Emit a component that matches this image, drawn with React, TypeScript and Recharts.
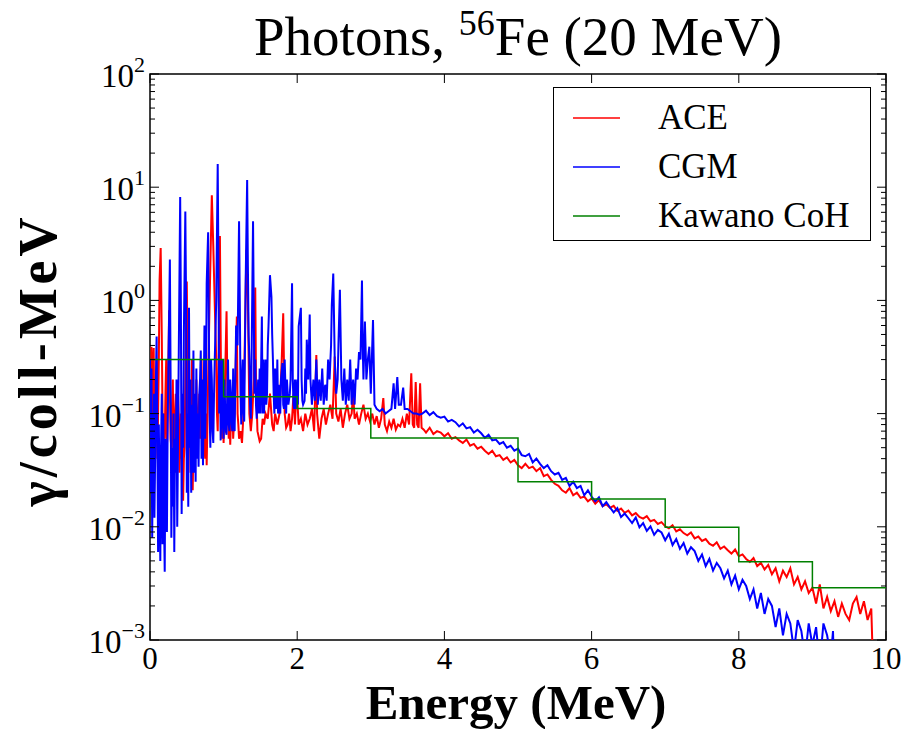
import { LineChart, Line, XAxis, YAxis, Legend, ReferenceArea } from "recharts"

// Kawano CoH group spectrum (step values, MeV bins)
const cohSteps: [number, number][] = [
  [0, 0.30], [1, 0.141], [2, 0.111], [3, 0.061], [4, 0.061], [5, 0.025],
  [6, 0.0176], [7, 0.0099], [8, 0.0049], [9, 0.0029], [10, 0.0029],
]

// CGM photon spectrum [energy MeV, gamma/coll-MeV]
const cgmSpectrum: [number, number][] = [
  [0.00, 0.30], [0.005, 0.05], [0.01, 0.02], [0.015, 0.2], [0.02, 0.25], [0.025, 0.03], [0.03, 0.008], [0.04, 0.1],
  [0.05, 0.05], [0.055, 0.15], [0.06, 0.012], [0.07, 0.04], [0.08, 0.2], [0.09, 0.48], [0.10, 0.05], [0.105, 0.02],
  [0.11, 0.006], [0.12, 0.08], [0.13, 0.02], [0.14, 0.005], [0.15, 0.05], [0.16, 0.15], [0.17, 0.007], [0.18, 0.1],
  [0.19, 0.012], [0.20, 0.004], [0.21, 0.06], [0.22, 0.03], [0.23, 0.009], [0.24, 0.08], [0.25, 0.25], [0.27, 2.3],
  [0.28, 0.2], [0.29, 0.008], [0.30, 0.05], [0.31, 0.015], [0.32, 0.1], [0.33, 0.006], [0.34, 0.06], [0.35, 0.03],
  [0.36, 0.2], [0.37, 0.01], [0.38, 0.05], [0.39, 0.3], [0.41, 8.2], [0.42, 0.8], [0.43, 0.013], [0.44, 0.15],
  [0.45, 0.05], [0.46, 0.5], [0.48, 6.1], [0.49, 1.0], [0.50, 0.02], [0.51, 0.1], [0.52, 0.015], [0.53, 0.86],
  [0.54, 0.05], [0.55, 0.2], [0.56, 0.02], [0.57, 0.12], [0.58, 0.03], [0.59, 0.36], [0.60, 0.03], [0.61, 0.15],
  [0.62, 0.025], [0.63, 0.25], [0.64, 0.04], [0.65, 0.1], [0.66, 0.034], [0.67, 0.15], [0.68, 0.2], [0.69, 0.36],
  [0.70, 0.04], [0.71, 0.2], [0.72, 0.035], [0.73, 0.15], [0.74, 0.6], [0.75, 0.06], [0.76, 0.15], [0.77, 1.4],
  [0.79, 4.0], [0.80, 0.5], [0.81, 0.1], [0.82, 0.05], [0.83, 0.3], [0.84, 0.2], [0.85, 0.07], [0.86, 0.055],
  [0.87, 0.15], [0.88, 0.3], [0.90, 1.0], [0.92, 16], [0.93, 2.0], [0.94, 0.1], [0.95, 0.3], [0.96, 0.058],
  [0.97, 0.1], [0.98, 0.3], [0.99, 0.08], [1.00, 0.06], [1.01, 0.2], [1.02, 0.12], [1.03, 0.07], [1.04, 0.065],
  [1.05, 0.15], [1.06, 0.3], [1.07, 0.08], [1.08, 0.07], [1.09, 0.2], [1.10, 0.15], [1.11, 0.08], [1.12, 0.07],
  [1.13, 0.25], [1.14, 0.09], [1.15, 0.07], [1.17, 0.6], [1.19, 0.4], [1.21, 5.0], [1.22, 1.0], [1.23, 0.15],
  [1.24, 0.08], [1.25, 0.2], [1.26, 0.3], [1.27, 0.1], [1.28, 0.085], [1.30, 1.5], [1.32, 11.6], [1.33, 2.0],
  [1.34, 0.5], [1.35, 0.3], [1.36, 0.12], [1.37, 0.09], [1.38, 0.3], [1.39, 1.2], [1.40, 5.0], [1.41, 0.8],
  [1.42, 0.15], [1.43, 0.3], [1.44, 0.12], [1.45, 0.09], [1.46, 0.15], [1.47, 0.2], [1.48, 0.1], [1.49, 0.25],
  [1.50, 0.1], [1.52, 0.72], [1.53, 0.1], [1.54, 0.3], [1.55, 0.1], [1.56, 0.2], [1.57, 0.3], [1.58, 0.12],
  [1.59, 0.15], [1.60, 0.4], [1.61, 0.59], [1.63, 1.67], [1.65, 1.07], [1.66, 0.5], [1.67, 0.3], [1.68, 0.15],
  [1.69, 0.1], [1.70, 0.25], [1.71, 0.11], [1.72, 0.12], [1.73, 0.3], [1.74, 0.1], [1.75, 0.18], [1.77, 0.1],
  [1.78, 0.2], [1.80, 0.28], [1.81, 0.12], [1.82, 0.11], [1.83, 0.3], [1.85, 0.1], [1.86, 0.2], [1.88, 0.12],
  [1.90, 0.15], [1.91, 0.2], [1.93, 1.42], [1.94, 0.2], [1.95, 0.12], [1.96, 0.11], [1.97, 0.2], [1.98, 0.11],
  [2.00, 0.2], [2.01, 0.12], [2.02, 0.59], [2.05, 0.86], [2.06, 0.2], [2.07, 0.13], [2.08, 0.12], [2.10, 0.13],
  [2.11, 0.25], [2.12, 0.15], [2.13, 0.45], [2.15, 0.2], [2.17, 0.75], [2.18, 0.2], [2.20, 0.12], [2.22, 0.2],
  [2.24, 0.13], [2.26, 0.3], [2.28, 0.12], [2.30, 0.2], [2.32, 0.13], [2.34, 0.25], [2.36, 0.12], [2.38, 0.18],
  [2.40, 0.13], [2.42, 0.3], [2.44, 0.2], [2.46, 0.4], [2.47, 0.9], [2.49, 1.73], [2.51, 0.3], [2.53, 0.15],
  [2.55, 0.2], [2.56, 0.4], [2.58, 1.24], [2.60, 0.2], [2.62, 0.13], [2.64, 0.25], [2.66, 0.12], [2.68, 0.2],
  [2.70, 0.13], [2.72, 0.3], [2.74, 0.12], [2.76, 0.2], [2.78, 0.12], [2.80, 0.25], [2.82, 0.2], [2.84, 0.35],
  [2.86, 0.3], [2.88, 1.5], [2.89, 0.4], [2.90, 0.2], [2.92, 0.65], [2.94, 0.2], [2.96, 0.3], [2.98, 0.39],
  [3.00, 0.15], [3.03, 0.67], [3.05, 0.12], [3.08, 0.11], [3.12, 0.105], [3.16, 0.11], [3.20, 0.1], [3.24, 0.105],
  [3.28, 0.11], [3.31, 0.185], [3.33, 0.11], [3.36, 0.21], [3.38, 0.12], [3.41, 0.12], [3.44, 0.17], [3.46, 0.11],
  [3.50, 0.11], [3.54, 0.105], [3.58, 0.1], [3.62, 0.1], [3.66, 0.098], [3.70, 0.1], [3.75, 0.106], [3.80, 0.097],
  [3.85, 0.103], [3.90, 0.095], [3.95, 0.092], [4.00, 0.094], [4.05, 0.085], [4.10, 0.088], [4.15, 0.084], [4.20, 0.077],
  [4.25, 0.082], [4.30, 0.074], [4.35, 0.076], [4.40, 0.068], [4.45, 0.072], [4.50, 0.067], [4.55, 0.061], [4.60, 0.065],
  [4.65, 0.058], [4.70, 0.059], [4.75, 0.054], [4.80, 0.056], [4.85, 0.05], [4.90, 0.052], [4.95, 0.047], [5.00, 0.049],
  [5.05, 0.043], [5.10, 0.042], [5.15, 0.044], [5.20, 0.037], [5.25, 0.04], [5.30, 0.036], [5.35, 0.033], [5.40, 0.035],
  [5.45, 0.031], [5.50, 0.029], [5.55, 0.03], [5.60, 0.026], [5.65, 0.027], [5.70, 0.023], [5.75, 0.025], [5.80, 0.022],
  [5.85, 0.023], [5.90, 0.019], [5.95, 0.021], [6.00, 0.0185], [6.05, 0.0168], [6.10, 0.0182], [6.15, 0.0152], [6.20, 0.0165],
  [6.25, 0.0148], [6.30, 0.0134], [6.35, 0.0146], [6.40, 0.0122], [6.45, 0.0131], [6.50, 0.0119], [6.55, 0.0108], [6.60, 0.0121],
  [6.65, 0.0099], [6.70, 0.0108], [6.75, 0.0092], [6.80, 0.0101], [6.85, 0.0085], [6.90, 0.0094], [6.95, 0.0089], [7.00, 0.0076],
  [7.05, 0.0087], [7.10, 0.0069], [7.15, 0.0078], [7.20, 0.0064], [7.25, 0.0072], [7.30, 0.0058], [7.35, 0.0066], [7.40, 0.0061],
  [7.45, 0.005], [7.50, 0.0057], [7.55, 0.0045], [7.60, 0.0052], [7.65, 0.0041], [7.70, 0.0048], [7.75, 0.0043], [7.80, 0.0035],
  [7.85, 0.0041], [7.90, 0.0031], [7.95, 0.0037], [8.00, 0.0028], [8.05, 0.0034], [8.10, 0.003], [8.15, 0.0023], [8.20, 0.0028],
  [8.25, 0.0019], [8.30, 0.0026], [8.35, 0.0017], [8.40, 0.0023], [8.45, 0.002], [8.50, 0.0013], [8.55, 0.0019], [8.60, 0.0011],
  [8.65, 0.0017], [8.70, 0.0014], [8.75, 0.0008], [8.80, 0.0015], [8.85, 0.0012], [8.90, 0.0007], [8.95, 0.0014], [9.00, 0.0009],
  [9.05, 0.0013], [9.10, 0.0006], [9.15, 0.0014], [9.20, 0.0011], [9.25, 0.0007], [9.28, 0.0012], [9.30, 0.0004],
]

// ACE photon spectrum [energy MeV, gamma/coll-MeV]
const aceSpectrum: [number, number][] = [
  [0.00, 0.05], [0.005, 0.2], [0.01, 0.3], [0.015, 0.1], [0.02, 0.39], [0.03, 0.05], [0.04, 0.25], [0.05, 0.38],
  [0.06, 0.06], [0.07, 0.2], [0.08, 0.1], [0.09, 0.3], [0.10, 0.04], [0.11, 0.1], [0.12, 0.3], [0.13, 1.5],
  [0.145, 2.9], [0.16, 0.5], [0.17, 0.1], [0.18, 0.029], [0.19, 0.1], [0.20, 0.06], [0.21, 0.15], [0.22, 0.3],
  [0.23, 0.05], [0.24, 0.1], [0.25, 0.3], [0.26, 0.82], [0.27, 0.15], [0.28, 0.06], [0.29, 0.05], [0.30, 0.12],
  [0.31, 0.2], [0.32, 0.05], [0.33, 0.05], [0.34, 0.1], [0.35, 0.15], [0.36, 0.04], [0.37, 0.06], [0.38, 0.15],
  [0.39, 0.1], [0.40, 0.03], [0.41, 0.05], [0.42, 0.1], [0.43, 0.04], [0.44, 0.08], [0.45, 0.017], [0.46, 0.04],
  [0.47, 0.05], [0.48, 0.2], [0.49, 0.6], [0.50, 1.47], [0.51, 0.3], [0.52, 0.08], [0.53, 0.05], [0.54, 0.1],
  [0.55, 0.03], [0.56, 0.06], [0.57, 0.3], [0.58, 0.021], [0.59, 0.05], [0.60, 0.04], [0.61, 0.1], [0.62, 0.06],
  [0.63, 0.2], [0.64, 0.07], [0.65, 0.056], [0.66, 0.1], [0.67, 0.15], [0.68, 0.06], [0.69, 0.07], [0.70, 0.3],
  [0.71, 0.05], [0.72, 0.08], [0.73, 0.1], [0.74, 0.05], [0.75, 0.04], [0.76, 0.1], [0.77, 0.035], [0.78, 0.08],
  [0.79, 0.2], [0.81, 1.0], [0.84, 8.5], [0.86, 3.0], [0.88, 0.91], [0.90, 0.3], [0.91, 0.1], [0.92, 0.07],
  [0.93, 0.2], [0.95, 3.7], [0.96, 0.5], [0.97, 0.1], [0.98, 0.06], [0.99, 0.1], [1.00, 0.055], [1.01, 0.1],
  [1.02, 0.2], [1.04, 0.8], [1.05, 0.2], [1.06, 0.09], [1.07, 0.06], [1.08, 0.1], [1.09, 0.053], [1.10, 0.09],
  [1.11, 0.07], [1.12, 0.12], [1.13, 0.06], [1.14, 0.08], [1.15, 0.1], [1.16, 0.2], [1.18, 0.72], [1.19, 0.1],
  [1.20, 0.08], [1.21, 0.06], [1.23, 0.07], [1.25, 0.055], [1.27, 0.1], [1.29, 0.5], [1.31, 2.8], [1.33, 1.0],
  [1.35, 0.1], [1.37, 0.07], [1.39, 0.1], [1.41, 0.2], [1.43, 1.3], [1.44, 0.2], [1.46, 0.07], [1.49, 0.057],
  [1.51, 0.06], [1.53, 0.09], [1.55, 0.08], [1.57, 0.1], [1.60, 0.09], [1.63, 0.15], [1.66, 0.08], [1.68, 0.07],
  [1.70, 0.1], [1.73, 0.08], [1.76, 0.1], [1.79, 0.3], [1.81, 0.77], [1.83, 0.1], [1.85, 0.075], [1.87, 0.08],
  [1.89, 0.1], [1.91, 0.07], [1.93, 0.09], [1.95, 0.15], [1.97, 0.08], [1.99, 0.18], [2.02, 0.08], [2.05, 0.09],
  [2.08, 0.07], [2.11, 0.1], [2.14, 0.08], [2.17, 0.09], [2.20, 0.11], [2.23, 0.07], [2.26, 0.33], [2.27, 0.1],
  [2.30, 0.06], [2.33, 0.09], [2.36, 0.11], [2.39, 0.08], [2.42, 0.1], [2.45, 0.12], [2.48, 0.09], [2.51, 0.32],
  [2.53, 0.1], [2.56, 0.085], [2.59, 0.11], [2.62, 0.075], [2.65, 0.1], [2.68, 0.12], [2.71, 0.09], [2.74, 0.1],
  [2.76, 0.15], [2.78, 0.09], [2.81, 0.1], [2.84, 0.08], [2.87, 0.1], [2.90, 0.12], [2.93, 0.09], [2.96, 0.1],
  [2.99, 0.085], [3.02, 0.1], [3.05, 0.08], [3.08, 0.095], [3.11, 0.075], [3.14, 0.09], [3.17, 0.137], [3.19, 0.08],
  [3.22, 0.07], [3.25, 0.085], [3.28, 0.075], [3.31, 0.09], [3.34, 0.072], [3.37, 0.08], [3.40, 0.077], [3.43, 0.09],
  [3.46, 0.075], [3.49, 0.1], [3.52, 0.08], [3.55, 0.227], [3.57, 0.08], [3.59, 0.075], [3.61, 0.19], [3.63, 0.08],
  [3.65, 0.075], [3.67, 0.185], [3.69, 0.075], [3.72, 0.072], [3.75, 0.068], [3.80, 0.075], [3.85, 0.066], [3.90, 0.07],
  [3.95, 0.068], [4.00, 0.063], [4.05, 0.067], [4.10, 0.06], [4.15, 0.062], [4.20, 0.058], [4.25, 0.055], [4.30, 0.059],
  [4.35, 0.052], [4.40, 0.054], [4.45, 0.049], [4.50, 0.051], [4.55, 0.047], [4.60, 0.044], [4.65, 0.047], [4.70, 0.042],
  [4.75, 0.043], [4.80, 0.039], [4.85, 0.041], [4.90, 0.037], [4.95, 0.039], [5.00, 0.035], [5.05, 0.033], [5.10, 0.036],
  [5.15, 0.033], [5.20, 0.034], [5.25, 0.031], [5.30, 0.033], [5.35, 0.028], [5.40, 0.029], [5.45, 0.026], [5.50, 0.024],
  [5.55, 0.023], [5.60, 0.021], [5.65, 0.02], [5.70, 0.022], [5.75, 0.019], [5.80, 0.02], [5.85, 0.018], [5.90, 0.0185],
  [5.95, 0.0168], [6.00, 0.0178], [6.05, 0.016], [6.10, 0.0172], [6.15, 0.0152], [6.20, 0.0158], [6.25, 0.0147], [6.30, 0.0153],
  [6.35, 0.0138], [6.40, 0.0145], [6.45, 0.0133], [6.50, 0.0139], [6.55, 0.0126], [6.60, 0.0132], [6.65, 0.0122], [6.70, 0.0118],
  [6.75, 0.0124], [6.80, 0.0112], [6.85, 0.0115], [6.90, 0.0106], [6.95, 0.011], [7.00, 0.0101], [7.05, 0.0097], [7.10, 0.0103],
  [7.15, 0.0091], [7.20, 0.0095], [7.25, 0.0088], [7.30, 0.0084], [7.35, 0.0089], [7.40, 0.0079], [7.45, 0.0082], [7.50, 0.0075],
  [7.55, 0.0078], [7.60, 0.0071], [7.65, 0.0068], [7.70, 0.0073], [7.75, 0.0064], [7.80, 0.0067], [7.85, 0.0062], [7.90, 0.0058],
  [7.95, 0.0063], [8.00, 0.0055], [8.05, 0.0057], [8.10, 0.0052], [8.15, 0.0049], [8.20, 0.0053], [8.25, 0.0045], [8.30, 0.0048],
  [8.35, 0.0042], [8.40, 0.0046], [8.45, 0.0038], [8.50, 0.0043], [8.55, 0.0033], [8.60, 0.0041], [8.65, 0.0036], [8.70, 0.0043],
  [8.75, 0.0031], [8.80, 0.0036], [8.85, 0.0028], [8.90, 0.0033], [8.95, 0.0026], [9.00, 0.0029], [9.05, 0.0021], [9.10, 0.0031],
  [9.15, 0.0019], [9.20, 0.0024], [9.25, 0.0018], [9.30, 0.0022], [9.35, 0.0016], [9.40, 0.0021], [9.45, 0.0017], [9.50, 0.0015],
  [9.55, 0.0021], [9.60, 0.0024], [9.65, 0.0017], [9.70, 0.0022], [9.75, 0.0015], [9.80, 0.0019], [9.82, 0.0007],
]

const xTicks = [0, 2, 4, 6, 8, 10]
const yDecades = [-3, -2, -1, 0, 1]

// all log ticks: 1..9 x 10^k plus the top decade
const yTicks: number[] = []
yDecades.forEach((d) => {
  for (let m = 1; m <= 9; m++) yTicks.push(Number((m * Math.pow(10, d)).toPrecision(3)))
})
yTicks.push(100)

const toRows = (pts: [number, number][]) => pts.map(([e, v]) => ({ e, v }))
const aceData = toRows(aceSpectrum)
const cgmData = toRows(cgmSpectrum)
const cohData = toRows(cohSteps)

const PLOT = { left: 150, right: 886, top: 74, bottom: 640 }
const FONT = "'Liberation Serif', 'Times New Roman', serif"

function LeftTick(props: any) {
  const { y, payload } = props
  const v = payload.value
  const exp = Math.round(Math.log10(v))
  const major = Math.abs(v - Math.pow(10, exp)) < 1e-9
  const len = major ? 9 : 5
  const sup = exp < 0 ? `\u2212${-exp}` : `${exp}`
  return (
    <g>
      <line x1={PLOT.left} x2={PLOT.left + len} y1={y} y2={y} stroke="#000" strokeWidth={1} />
      <line x1={PLOT.right} x2={PLOT.right - len} y1={y} y2={y} stroke="#000" strokeWidth={1} />
      {major && (
        <text x={PLOT.left - 5} y={y + 13} textAnchor="end" fontFamily={FONT} fontSize={33} fill="#000">
          10<tspan dy={-15} fontSize={22}>{sup}</tspan>
        </text>
      )}
    </g>
  )
}

function BottomTick(props: any) {
  const { x, payload } = props
  return (
    <g>
      <line x1={x} x2={x} y1={PLOT.bottom} y2={PLOT.bottom - 9} stroke="#000" strokeWidth={1} />
      <line x1={x} x2={x} y1={PLOT.top} y2={PLOT.top + 9} stroke="#000" strokeWidth={1} />
      <text x={x} y={PLOT.bottom + 29} textAnchor="middle" fontFamily={FONT} fontSize={31} fill="#000">
        {payload.value}
      </text>
    </g>
  )
}

function LegendBox({ payload }: any) {
  return (
    <div
      style={{
        width: 318,
        height: 154,
        boxSizing: "border-box",
        border: "1.5px solid #000",
        background: "#fff",
        paddingTop: 5,
      }}
    >
      {(payload || []).map((entry: any) => (
        <div key={entry.value} style={{ display: "flex", alignItems: "center", height: 49 }}>
          <svg width={104} height={10} style={{ flex: "none" }}>
            <line x1={19} x2={66} y1={5} y2={5} stroke={entry.color} strokeWidth={1.5} />
          </svg>
          <span style={{ fontFamily: FONT, fontSize: 35, color: "#000", lineHeight: "49px" }}>{entry.value}</span>
        </div>
      ))}
    </div>
  )
}

export default function App() {
  return (
    <div style={{ position: "absolute", left: 0, top: 0, width: 906, height: 729, background: "#fff" }}>
      <LineChart width={906} height={729} margin={{ top: 74, right: 20, bottom: 0, left: 0 }}>
        <XAxis
          dataKey="e"
          type="number"
          domain={[0, 10]}
          ticks={xTicks}
          interval={0}
          height={89}
          axisLine={false}
          tickLine={false}
          tick={<BottomTick />}
          allowDataOverflow
        />
        <YAxis
          type="number"
          scale="log"
          domain={[0.001, 100]}
          ticks={yTicks}
          interval={0}
          width={150}
          axisLine={false}
          tickLine={false}
          tick={<LeftTick />}
          allowDataOverflow
        />
        <Line
          data={aceData}
          dataKey="v"
          name="ACE"
          stroke="#ff0000"
          strokeWidth={2}
          dot={false}
          isAnimationActive={false}
        />
        <Line
          data={cgmData}
          dataKey="v"
          name="CGM"
          stroke="#0000ff"
          strokeWidth={2}
          dot={false}
          isAnimationActive={false}
        />
        <Line
          data={cohData}
          dataKey="v"
          name="Kawano CoH"
          type="stepAfter"
          stroke="#008000"
          strokeWidth={1.5}
          dot={false}
          isAnimationActive={false}
        />
        <ReferenceArea
          x1={0}
          x2={10}
          y1={0.001}
          y2={100}
          fill="none"
          stroke="#000"
          strokeWidth={1.5}
          ifOverflow="visible"
        />
        <Legend
          layout="vertical"
          align="center"
          verticalAlign="middle"
          wrapperStyle={{ left: 553, top: 87, width: 318, height: 154 }}
          content={<LegendBox />}
        />
      </LineChart>
      <svg
        width={906}
        height={729}
        style={{ position: "absolute", left: 0, top: 0, pointerEvents: "none" }}
      >
        <text x={518} y={55} textAnchor="middle" fontFamily={FONT} fontSize={55} fill="#000">
          Photons, <tspan dy={-20} fontSize={36}>56</tspan>
          <tspan dy={20}>Fe (20 MeV)</tspan>
        </text>
        <text x={516} y={719} textAnchor="middle" fontFamily={FONT} fontSize={49} fontWeight="bold" fill="#000">
          Energy (MeV)
        </text>
        <text
          transform="translate(56, 360) rotate(-90)"
          textAnchor="middle"
          fontFamily={FONT}
          fontSize={54}
          fontWeight="bold"
          letterSpacing={4}
          fill="#000"
        >
          γ/coll-MeV
        </text>
      </svg>
    </div>
  )
}
